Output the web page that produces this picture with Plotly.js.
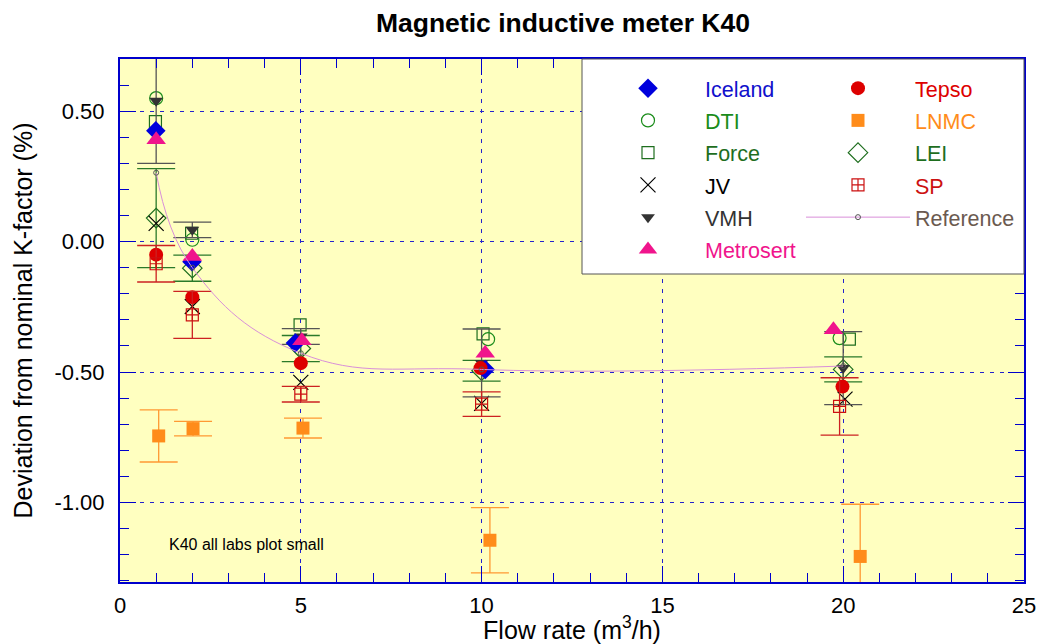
<!DOCTYPE html>
<html><head><meta charset="utf-8">
<script src="https://cdn.plot.ly/plotly-3.0.1.min.js"></script>
<style>html,body{margin:0;padding:0;background:#fff}#chart{width:1040px;height:644px}</style>
</head><body><div id="chart"></div>
<script>
// ---- data ----
const icelandX = [0.99, 1.99, 4.85, 10.1];
const icelandY = [0.425, -0.077, -0.389, -0.49];

const dtiX = [1.0, 2.0, 10.18, 19.9];
const dtiY = [0.55, 0.007, -0.374, -0.37];

const forceX = [0.98, 1.98, 4.98, 10.04, 20.17];
const forceY = [0.46, 0.032, -0.319, -0.354, -0.374];

const jvX = [1.0, 2.0, 5.0, 10.0, 20.05];
const jvY = [0.07, -0.249, -0.54, -0.62, -0.604];

const vmhX = [1.0, 2.0, 5.0, 10.0, 20.0];
const vmhY = [0.54, 0.045, -0.364, -0.465, -0.485];
const vmhErr = [0.24, 0.03, 0.03, 0.13, 0.14];

const metroX = [1.0, 2.0, 5.03, 10.1, 19.73];
const metroY = [0.39, -0.057, -0.38, -0.428, -0.338];

const tepsoX = [1.0, 2.0, 5.0, 9.97, 19.98];
const tepsoY = [-0.05, -0.213, -0.466, -0.485, -0.556];

const lnmcX = [1.07, 2.02, 5.06, 10.23, 20.47];
const lnmcY = [-0.745, -0.717, -0.715, -1.145, -1.207];
const lnmcErr = [0.1, 0.028, 0.038, 0.125, 0.2];

const leiX = [1.0, 2.0, 5.0, 10.0, 20.0];
const leiY = [0.09, -0.102, -0.41, -0.495, -0.49];
const leiErr = [0.19, 0.05, 0.05, 0.04, 0.048];

const spX = [1.0, 2.0, 5.0, 10.0, 19.9];
const spY = [-0.085, -0.281, -0.585, -0.623, -0.632];
const spErr = [0.07, 0.09, 0.03, 0.047, 0.11];

const refX = [1, 2, 5, 10, 20];
const refY = [0.264, -0.10, -0.428, -0.49, -0.477];

const yTickVals = [-1.0, -0.5, 0.0, 0.5];
const yTickText = ['-1.00', '-0.50', '0.00', '0.50'];
const xTickVals = [0, 5, 10, 15, 20, 25];
const xTickText = ['0', '5', '10', '15', '20', '25'];

// ---- helpers ----
function lbl(text, color) { return '<span style="color:' + color + ';font-size:21.5px">' + text + '</span>'; }
function errb(arr, color) {
  return {type: 'data', array: arr, visible: true, color: color, thickness: 1.3, width: 19};
}

const traces = [
  {x: forceX, y: forceY, name: lbl('Force', '#1e6e1e'), legend: 'legend', legendrank: 3, mode: 'markers',
   marker: {symbol: 'square-open', size: 12, color: '#1e6e1e', line: {width: 1.2}}},
  {x: dtiX, y: dtiY, name: lbl('DTI', '#1a8c1a'), legend: 'legend', legendrank: 2, mode: 'markers',
   marker: {symbol: 'circle-open', size: 13, color: '#1a8c1a', line: {width: 1.2}}},
  {x: leiX, y: leiY, name: lbl('LEI', '#1e6e1e'), legend: 'legend2', legendrank: 3, mode: 'markers',
   error_y: errb(leiErr, '#2a7a2a'),
   marker: {symbol: 'diamond-open', size: 15, color: '#1e6e1e', line: {width: 1.2}}},
  {x: jvX, y: jvY, name: lbl('JV', '#000000'), legend: 'legend', legendrank: 4, mode: 'markers',
   marker: {symbol: 'x-thin-open', size: 15, color: '#000000', line: {width: 1.2}}},
  {x: vmhX, y: vmhY, name: lbl('VMH', '#333333'), legend: 'legend', legendrank: 5, mode: 'markers',
   error_y: errb(vmhErr, '#555555'),
   marker: {symbol: 'triangle-down', size: 12, color: '#333333'}},
  {x: icelandX, y: icelandY, name: lbl('Iceland', '#1010cc'), legend: 'legend', legendrank: 1, mode: 'markers',
   marker: {symbol: 'diamond', size: 15, color: '#0000dd'}},
  {x: tepsoX, y: tepsoY, name: lbl('Tepso', '#dd0000'), legend: 'legend2', legendrank: 1, mode: 'markers',
   marker: {symbol: 'circle', size: 14, color: '#dd0000'}},
  {x: spX, y: spY, name: lbl('SP', '#cc1111'), legend: 'legend2', legendrank: 4, mode: 'markers',
   error_y: errb(spErr, '#cc2222'),
   marker: {symbol: 'square-cross-open', size: 12, color: '#cc1111', line: {width: 1.2}}},
  {x: lnmcX, y: lnmcY, name: lbl('LNMC', '#ff8c1a'), legend: 'legend2', legendrank: 2, mode: 'markers',
   error_y: errb(lnmcErr, '#ff9933'),
   marker: {symbol: 'square', size: 13, color: '#ff8c1a'}},
  {x: metroX, y: metroY, name: lbl('Metrosert', '#f0148c'), legend: 'legend', legendrank: 6, mode: 'markers',
   marker: {symbol: 'triangle-up', size: 17, color: '#f0148c'}},
  {x: refX, y: refY, name: lbl('Reference', '#6b5a50'), legend: 'legend2', legendrank: 5, mode: 'lines+markers',
   line: {shape: 'spline', smoothing: 1.2, color: '#d98fd9', width: 1},
   marker: {symbol: 'circle-open', size: 5, color: '#555555', line: {width: 1}}}
];

const axisCommon = {
  showline: true, linecolor: '#0000cc', linewidth: 2, mirror: 'ticks',
  ticks: 'inside', ticklen: 16, tickwidth: 1, tickcolor: '#0000cc',
  showgrid: true, gridcolor: '#2222cc', gridwidth: 1, griddash: '4px,6px',
  zeroline: false, tickfont: {size: 22, color: '#000'}
};

const legendCommon = {
  orientation: 'v', itemwidth: 104, yanchor: 'top', xanchor: 'left',
  bgcolor: 'rgba(0,0,0,0)', borderwidth: 0, font: {size: 22.5}, traceorder: 'normal'
};

const layout = {
  width: 1040, height: 644,
  font: {family: 'Liberation Sans, Arial, sans-serif', color: '#000'},
  paper_bgcolor: '#ffffff', plot_bgcolor: '#ffffc0',
  margin: {l: 120, r: 16, t: 59, b: 62},
  showlegend: true,
  title: {text: '<b>Magnetic inductive meter K40</b>', font: {size: 26.5, color: '#000'},
          xref: 'paper', x: 0.49, xanchor: 'center', yref: 'container', y: 0.965, yanchor: 'middle'},
  xaxis: Object.assign({}, axisCommon, {
    range: [0, 25], tickmode: 'array', tickvals: xTickVals, ticktext: xTickText, ticklabelstandoff: 3,
    minor: {dtick: 1, tick0: 0, ticks: 'inside', ticklen: 9, tickcolor: '#0000cc', showgrid: false},
    title: {text: 'Flow rate (m<sup>3</sup>/h)', font: {size: 25}, standoff: 2}
  }),
  yaxis: Object.assign({}, axisCommon, {
    range: [-1.305, 0.70], tickmode: 'array', tickvals: yTickVals, ticktext: yTickText, ticklabelstandoff: 9,
    minor: {dtick: 0.1, tick0: 0, ticks: 'inside', ticklen: 9, tickcolor: '#0000cc', showgrid: false},
    title: {text: 'Deviation from nominal K-factor (%)', font: {size: 25}, standoff: 15}
  }),
  legend: Object.assign({}, legendCommon, {x: (591 - 120) / 904, y: 1 - (67 - 59) / 523}),
  legend2: Object.assign({}, legendCommon, {x: (801 - 120) / 904, y: 1 - (67 - 59) / 523}),
  shapes: [
    {type: 'rect', xref: 'paper', yref: 'paper', layer: 'above',
     x0: (582 - 120) / 904, x1: 1.0, y0: 1 - (274 - 59) / 523, y1: 1.0,
     fillcolor: '#ffffff', line: {color: '#555555', width: 1}}
  ],
  annotations: [
    {text: 'K40 all labs plot small', xref: 'x', yref: 'y', x: 1.29, y: -1.162,
     xanchor: 'left', yanchor: 'middle', showarrow: false, font: {size: 16, color: '#000'}}
  ]
};

Plotly.newPlot('chart', traces, layout, {displayModeBar: false, staticPlot: true});
</script>
</body></html>
